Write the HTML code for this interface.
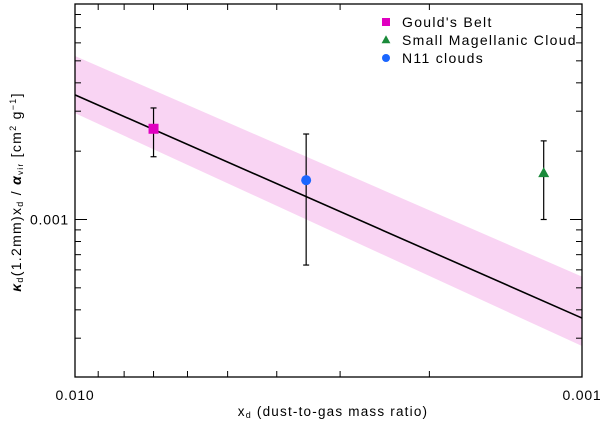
<!DOCTYPE html>
<html><head><meta charset="utf-8"><style>
html,body{margin:0;padding:0;background:#fff;}
svg{display:block;font-family:"Liberation Sans",sans-serif;}
</style></head><body>
<svg id="chart" width="600" height="423" viewBox="0 0 600 423" xmlns="http://www.w3.org/2000/svg"></svg>
<script>
const categories = ["Gould's Belt", "N11 clouds", "Small Magellanic Cloud"];
const xdValues = [0.0070, 0.0035, 0.00119];
const yValues = [0.00251, 0.00149, 0.00160];
const yErrHigh = [0.0031, 0.00238, 0.00222];
const yErrLow = [0.00189, 0.00063, 0.00100];
const fitX = [0.01, 0.001];
const fitY = [0.00354, 0.000368];
const bandTop = [0.00525, 0.00056];
const bandBottom = [0.00294, 0.000277];
const xTickLabels = ["0.010", "0.001"];
const yTickLabels = ["0.001"];

const L=75,R=582,T=4,B=377;
function X(v){return L+(R-L)*(-2-Math.log10(v));}
function Y(v){return 219.5-227*(Math.log10(v)+3);}
const NS="http://www.w3.org/2000/svg";
const svg=document.getElementById('chart');
function mk(tag,attrs,parent){const e=document.createElementNS(NS,tag);for(const k in attrs)e.setAttribute(k,attrs[k]);(parent||svg).appendChild(e);return e;}

let band=mk('polygon',{points:[fitX.map((x,i)=>X(x)+','+Y(bandTop[i])).join(' '),fitX.slice().reverse().map((x,i)=>X(x)+','+Y(bandBottom[bandBottom.length-1-i])).join(' ')].join(' '),fill:'#f9d4f3'});


let fl=mk('polyline',{points:fitX.map((x,i)=>X(x)+','+Y(fitY[i])).join(' '),fill:'none',stroke:'#000','stroke-width':1.6});



let fr=mk('rect',{x:L,y:T,width:R-L,height:B-T,fill:'none',stroke:'#000','stroke-width':1.3});


for(let d=2;d<=10;d++){const v=d/1000;const x=X(v);
 mk('line',{x1:x,y1:B,x2:x,y2:B-6,stroke:'#000','stroke-width':1});
 mk('line',{x1:x,y1:T,x2:x,y2:T+6,stroke:'#000','stroke-width':1});}
const yt=[0.0003,0.0004,0.0005,0.0006,0.0007,0.0008,0.0009,0.001,0.002,0.003,0.004,0.005,0.006,0.007,0.008];
yt.forEach(v=>{const y=Y(v);if(y<T||y>B)return;const len=v===0.001?12:6;
 mk('line',{x1:L,y1:y,x2:L+len,y2:y,stroke:'#000','stroke-width':1});
 mk('line',{x1:R,y1:y,x2:R-len,y2:y,stroke:'#000','stroke-width':1});});
[0.01,0.001].forEach((v,i)=>{let t=mk('text',{x:X(v),y:400,'text-anchor':'middle','font-size':14,'letter-spacing':0.8});t.textContent=xTickLabels[i];
 
 });
let yl=mk('text',{x:69,y:Y(0.001)+5,'text-anchor':'end','font-size':14,'letter-spacing':0.8});yl.textContent=yTickLabels[0];



let xt=mk('text',{x:333,y:416,'text-anchor':'middle','font-size':13.5,'letter-spacing':1.2});
xt.innerHTML='x<tspan font-size="9" dy="2">d</tspan><tspan dy="-2"> (dust-to-gas mass ratio)</tspan>';


let ytt=mk('text',{x:0,y:0,'text-anchor':'middle','font-size':14,'letter-spacing':1.3,transform:'translate(21,192) rotate(-90)'});
ytt.innerHTML='<tspan font-weight="bold" font-style="italic">κ</tspan><tspan font-size="9" dy="2">d</tspan><tspan dy="-2">(1.2mm)x</tspan><tspan font-size="9" dy="2">d</tspan><tspan dy="-2"> / </tspan><tspan font-weight="bold" font-style="italic">α</tspan><tspan font-size="8" dy="2">vir</tspan><tspan dy="-2">   [cm</tspan><tspan font-size="9" dy="-5">2</tspan><tspan dy="5"> g</tspan><tspan font-size="9" dy="-5">−1</tspan><tspan dy="5">]</tspan>';



const colors=['#e000c0','#1a66ff','#1a8a3a'];
const shapes=['square','circle','triangle'];
function marker(shape,x,y,c,g){
 if(shape==='square')return mk('rect',{x:x-5,y:y-5,width:10,height:10,fill:c},g);
 if(shape==='circle')return mk('circle',{cx:x,cy:y,r:5,fill:c},g);
 return mk('polygon',{points:`${x},${y-6} ${x-5.5},${y+4} ${x+5.5},${y+4}`,fill:c},g);}
categories.forEach((name,i)=>{
 const g=mk('g',{});
 
 
 const x=X(xdValues[i]);
 mk('line',{x1:x,y1:Y(yErrHigh[i]),x2:x,y2:Y(yErrLow[i]),stroke:'#000','stroke-width':1.2},g);
 mk('line',{x1:x-3,y1:Y(yErrHigh[i]),x2:x+3,y2:Y(yErrHigh[i]),stroke:'#000','stroke-width':1.2},g);
 mk('line',{x1:x-3,y1:Y(yErrLow[i]),x2:x+3,y2:Y(yErrLow[i]),stroke:'#000','stroke-width':1.2},g);
 marker(shapes[i],x,Y(yValues[i]),colors[i],g);
});

const legOrder=[0,2,1];
legOrder.forEach((i,r)=>{
 const g=mk('g',{});
 
 
 const y=22+r*18;
 marker(shapes[i],386,y,colors[i],g).setAttribute('transform',`translate(386 ${y}) scale(0.8) translate(-386 ${-y})`);
 const t=mk('text',{x:402,y:y+5,'font-size':14,'letter-spacing':1.3},g);t.textContent=categories[i];
});
</script>
</body></html>
